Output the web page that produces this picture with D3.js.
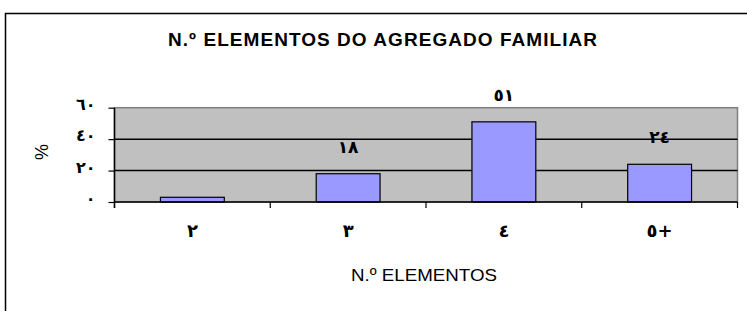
<!DOCTYPE html>
<html>
<head>
<meta charset="utf-8">
<script src="https://cdn.jsdelivr.net/npm/d3@7"></script>
<style>
  body { margin: 0; background: #fff; }
  svg { display: block; }
  .tick text { font-family: "DejaVu Sans", sans-serif; font-weight: bold; }
</style>
</head>
<body>
<svg id="plate" width="747" height="311"></svg>
<script>
// data
var categories = ['٢', '٣', '٤', '٥+'];
var percents = [3, 18, 51, 24];
var barLabels = [null, '١٨', '٥١', '٢٤'];
var yTicks = [0, 20, 40, 60];

var chartTitle = 'N.º ELEMENTOS DO AGREGADO FAMILIAR';
var xTitle = 'N.º ELEMENTOS';
var yTitle = '%';

function arabicDigits(n) {
    return String(n).replace(/[0-9]/g, function(c) { return '٠١٢٣٤٥٦٧٨٩'[+c]; });
}

var svg = d3.select('#plate');

// outer chart frame (clipped by the window on the right and bottom)
svg.append('path')
    .attr('d', 'M5.5,320V13.5H760')
    .attr('fill', 'none')
    .attr('stroke', '#000')
    .attr('stroke-width', 1.5);

var margin = {top: 107.7, left: 114.5};
var width = 623;
var height = 94.3;

var g = svg.append('g')
    .attr('transform', 'translate(' + margin.left + ',' + margin.top + ')');

var x = d3.scaleBand().domain(categories).range([0, width]).padding(0);
var y = d3.scaleLinear().domain([0, 60]).range([height, 0]);

// plot area
g.append('rect')
    .attr('width', width)
    .attr('height', height)
    .attr('fill', '#c0c0c0')
    .attr('stroke', '#808080')
    .attr('stroke-width', 1.5);

// gridlines
g.selectAll('line.grid')
    .data(yTicks.filter(function(d) { return d > 0 && d < 60; }))
    .enter().append('line')
    .attr('class', 'grid')
    .attr('x1', 0)
    .attr('x2', width)
    .attr('y1', function(d) { return y(d); })
    .attr('y2', function(d) { return y(d); })
    .attr('stroke', '#000')
    .attr('stroke-width', 1.5);

// bars
var barW = x.bandwidth() * 0.41;
g.selectAll('rect.bar')
    .data(percents)
    .enter().append('rect')
    .attr('class', 'bar')
    .attr('x', function(d, i) { return x(categories[i]) + (x.bandwidth() - barW) / 2; })
    .attr('y', function(d) { return y(d); })
    .attr('width', barW)
    .attr('height', function(d) { return height - y(d); })
    .attr('fill', '#9999ff')
    .attr('stroke', '#000')
    .attr('stroke-width', 1.2);

// value labels
g.selectAll('text.val')
    .data(percents)
    .enter().append('text')
    .attr('class', 'val')
    .attr('x', function(d, i) { return x(categories[i]) + x.bandwidth() / 2; })
    .attr('y', function(d) { return y(d) - 21; })
    .attr('text-anchor', 'middle')
    .style('font-family', '"DejaVu Sans", sans-serif')
    .style('font-weight', 'bold')
    .style('font-size', '17px')
    .style('letter-spacing', '3px')
    .text(function(d, i) { return barLabels[i]; });

// x axis: ticks sit on category boundaries
var xAxis = g.append('g')
    .attr('transform', 'translate(0,' + height + ')');
xAxis.append('line')
    .attr('x1', 0).attr('x2', width)
    .attr('stroke', '#000').attr('stroke-width', 1.5);
xAxis.selectAll('line.tk')
    .data(categories.concat(['end']))
    .enter().append('line')
    .attr('class', 'tk')
    .attr('x1', function(d, i) { return i * x.step(); })
    .attr('x2', function(d, i) { return i * x.step(); })
    .attr('y1', 0).attr('y2', 6)
    .attr('stroke', '#000').attr('stroke-width', 1.2);
xAxis.selectAll('text')
    .data(categories)
    .enter().append('text')
    .attr('x', function(d) { return x(d) + x.bandwidth() / 2; })
    .attr('y', 35)
    .attr('text-anchor', 'middle')
    .style('font-family', '"DejaVu Sans", sans-serif')
    .style('font-weight', 'bold')
    .style('font-size', '18px')
    .text(function(d) { return d; });

// y axis
var yAxis = g.append('g')
    .call(d3.axisLeft(y).tickValues(yTicks).tickSize(6).tickPadding(13)
        .tickFormat(arabicDigits));
yAxis.select('.domain').attr('stroke', '#000').attr('stroke-width', 1.5)
    .attr('d', 'M0,0V' + (height + 6));
yAxis.selectAll('.tick line').attr('stroke', '#000').attr('stroke-width', 1.2);
yAxis.selectAll('.tick text')
    .style('font-size', '16px')
    .style('letter-spacing', '4px')
    .attr('dy', '0.1em');

// titles
svg.append('text')
    .attr('x', 382.5)
    .attr('y', 45.7)
    .attr('text-anchor', 'middle')
    .attr('textLength', 429)
    .attr('lengthAdjust', 'spacing')
    .style('font-family', '"Liberation Sans", Arial, sans-serif')
    .style('font-weight', 'bold')
    .style('font-size', '19px')
    .text(chartTitle);

svg.append('text')
    .attr('x', 424)
    .attr('y', 281)
    .attr('text-anchor', 'middle')
    .attr('textLength', 146)
    .attr('lengthAdjust', 'spacingAndGlyphs')
    .style('font-family', '"Liberation Sans", Arial, sans-serif')
    .style('font-size', '17px')
    .text(xTitle);

svg.append('text')
    .attr('transform', 'translate(48,152) rotate(-90)')
    .attr('text-anchor', 'middle')
    .style('font-family', '"Liberation Sans", Arial, sans-serif')
    .style('font-size', '18px')
    .text(yTitle);
</script>
</body>
</html>
